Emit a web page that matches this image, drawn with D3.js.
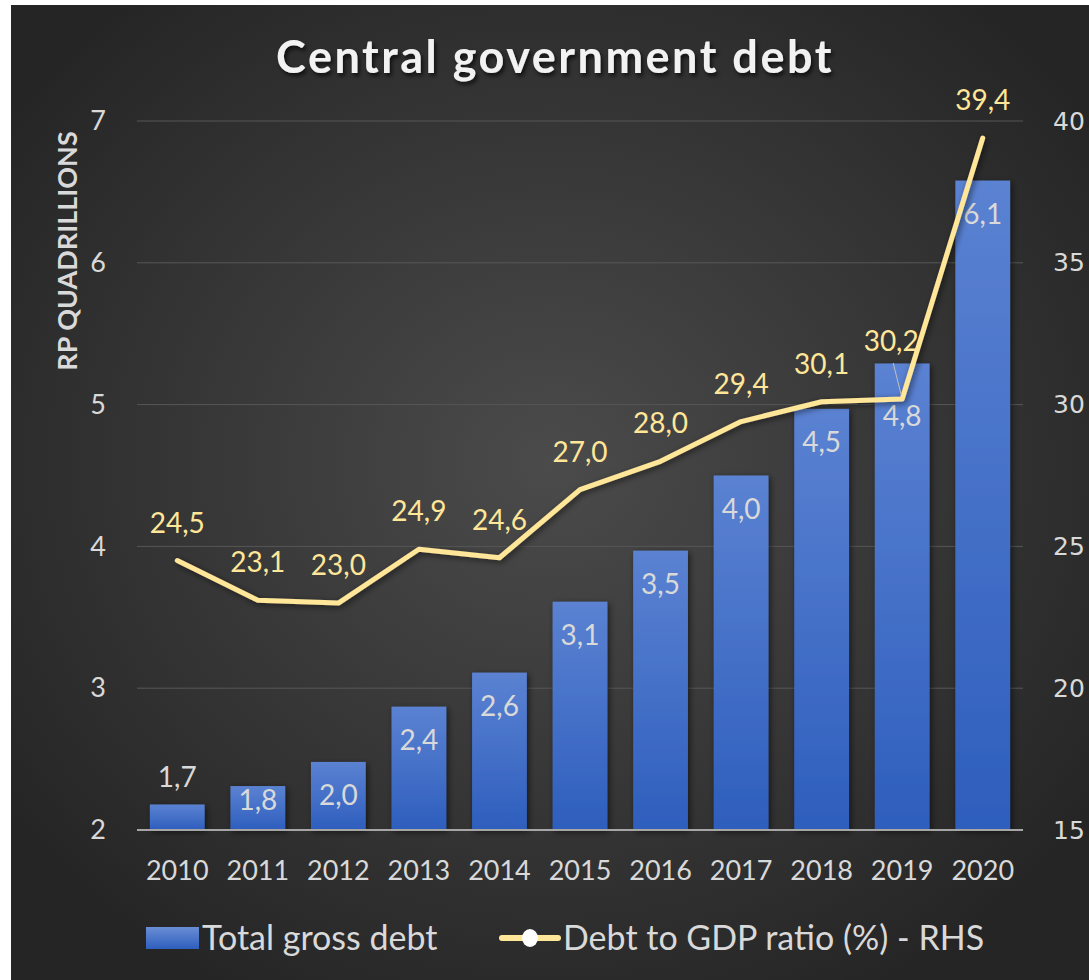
<!DOCTYPE html>
<html>
<head>
<meta charset="utf-8">
<script src="https://cdn.jsdelivr.net/npm/d3@7"></script>
<style>
	html, body { margin: 0; padding: 0; background: #fff; }
	svg { display: block; }
</style>
</head>
<body>
<div id="chart"></div>
<script>
var years = ["2010", "2011", "2012", "2013", "2014", "2015", "2016", "2017", "2018", "2019", "2020"];
// bar heights as drawn in the picture (left axis)
var debtBar = [2.18, 2.31, 2.48, 2.87, 3.11, 3.61, 3.97, 4.50, 4.97, 5.29, 6.58];
// values printed on the bars
var debtLabel = [1.7, 1.8, 2.0, 2.4, 2.6, 3.1, 3.5, 4.0, 4.5, 4.8, 6.1];
var ratio = [24.5, 23.1, 23.0, 24.9, 24.6, 27.0, 28.0, 29.4, 30.1, 30.2, 39.4];
var leftTicks = [2, 3, 4, 5, 6, 7],
	rightTicks = [15, 20, 25, 30, 35, 40];

var width = 1089,
	height = 980,
	margin = {top: 121, right: 66, bottom: 150, left: 137},
	font = "Lato, 'Open Sans', sans-serif",
	textCol = "#d9d9d9",
	lineCol = "#ffe699";

var svg = d3.select("#chart").append("svg")
	.attr("width", width)
	.attr("height", height);

var defs = svg.append("defs");

var bg = defs.append("radialGradient").attr("id", "bg")
	.attr("cx", "50%").attr("cy", "47%").attr("r", "62%");
bg.append("stop").attr("offset", "0%").attr("stop-color", "#4b4b4b");
bg.append("stop").attr("offset", "100%").attr("stop-color", "#252525");

var barGrad = defs.append("linearGradient").attr("id", "barGrad")
	.attr("x1", 0).attr("y1", 0).attr("x2", 0).attr("y2", 1);
barGrad.append("stop").attr("offset", "0%").attr("stop-color", "#5b82d2");
barGrad.append("stop").attr("offset", "100%").attr("stop-color", "#2e5ebd");

var legGrad = defs.append("linearGradient").attr("id", "legGrad")
	.attr("x1", 0).attr("y1", 0).attr("x2", 0).attr("y2", 1);
legGrad.append("stop").attr("offset", "0%").attr("stop-color", "#6a8ed6");
legGrad.append("stop").attr("offset", "100%").attr("stop-color", "#2e5ebd");

var shadow = defs.append("filter").attr("id", "shadow")
	.attr("x", "-20%").attr("y", "-20%").attr("width", "140%").attr("height", "140%");
shadow.append("feDropShadow").attr("dx", 2).attr("dy", 2).attr("stdDeviation", 3)
	.attr("flood-color", "#000").attr("flood-opacity", 0.55);

var tshadow = defs.append("filter").attr("id", "tshadow")
	.attr("x", "-10%").attr("y", "-30%").attr("width", "120%").attr("height", "160%");
tshadow.append("feDropShadow").attr("dx", 2).attr("dy", 3).attr("stdDeviation", 2)
	.attr("flood-color", "#000").attr("flood-opacity", 0.7);

svg.append("rect")
	.attr("x", 11).attr("y", 5)
	.attr("width", width - 11).attr("height", height - 5)
	.attr("fill", "url(#bg)");

var x = d3.scaleBand()
	.domain(years)
	.range([margin.left, width - margin.right])
	.paddingInner(0.32)
	.paddingOuter(0.16);

var y = d3.scaleLinear()
	.domain([2, 7])
	.range([height - margin.bottom, margin.top]);

var y2 = d3.scaleLinear()
	.domain([15, 40])
	.range([height - margin.bottom, margin.top]);

var fmt = function(v){ return d3.format(".1f")(v).replace(".", ","); };

// gridlines
svg.append("g")
	.selectAll("line")
	.data(leftTicks.slice(1)).enter()
	.append("line")
	.attr("x1", margin.left).attr("x2", width - margin.right)
	.attr("y1", function(d){ return y(d); })
	.attr("y2", function(d){ return y(d); })
	.attr("stroke", "#575757")
	.attr("stroke-width", 1);

// left axis
var yAxis = svg.append("g")
	.attr("transform", "translate(" + (margin.left - 31) + ",0)")
	.call(d3.axisLeft(y).tickValues(leftTicks).tickFormat(d3.format("d")).tickSize(0).tickPadding(0));
yAxis.select(".domain").remove();
yAxis.selectAll("text")
	.attr("fill", textCol)
	.style("font", "27px " + font);

// right axis
var yAxis2 = svg.append("g")
	.attr("transform", "translate(" + (width - margin.right + 30) + ",0)")
	.call(d3.axisRight(y2).tickValues(rightTicks).tickSize(0).tickPadding(0));
yAxis2.select(".domain").remove();
yAxis2.selectAll("text")
	.attr("fill", textCol)
	.style("font", "25px 'DejaVu Sans', sans-serif");

// axis title
svg.append("text")
	.attr("transform", "translate(77," + ((130 + 372) / 2) + ") rotate(-90)")
	.attr("text-anchor", "middle")
	.attr("fill", textCol)
	.style("font", "bold 27px " + font)
	.text("RP QUADRILLIONS");

// bars
svg.append("g")
	.selectAll("rect")
	.data(debtBar).enter()
	.append("rect")
	.attr("x", function(d, i){ return x(years[i]); })
	.attr("y", function(d){ return y(d); })
	.attr("width", x.bandwidth())
	.attr("height", function(d){ return y(2) - y(d); })
	.attr("fill", "url(#barGrad)")
	.attr("filter", "url(#shadow)");

// baseline
svg.append("line")
	.attr("x1", margin.left).attr("x2", width - margin.right)
	.attr("y1", y(2)).attr("y2", y(2))
	.attr("stroke", "#a6a6a6")
	.attr("stroke-width", 2);

// x axis labels
var xAxis = svg.append("g")
	.attr("transform", "translate(0," + (y(2) + 25) + ")")
	.call(d3.axisBottom(x).tickSize(0).tickPadding(6));
xAxis.select(".domain").remove();
xAxis.selectAll("text")
	.attr("fill", textCol)
	.style("font", "27px " + font);

// bar labels
svg.append("g")
	.selectAll("text")
	.data(debtLabel).enter()
	.append("text")
	.attr("x", function(d, i){ return x(years[i]) + x.bandwidth() / 2; })
	.attr("y", function(d, i){
		var top = y(debtBar[i]);
		if (i == 0) return top - 17;
		if (i == 1) return top + 24;
		if (i == 9) return top + 63;
		return top + 43;
	})
	.attr("text-anchor", "middle")
	.attr("fill", textCol)
	.style("font", "28px " + font)
	.text(function(d){ return fmt(d); });

// ratio line
var line = d3.line()
	.x(function(d, i){ return x(years[i]) + x.bandwidth() / 2; })
	.y(function(d){ return y2(d); });

svg.append("path")
	.datum(ratio)
	.attr("d", line)
	.attr("fill", "none")
	.attr("stroke", lineCol)
	.attr("stroke-width", 5)
	.attr("stroke-linejoin", "round")
	.attr("stroke-linecap", "round")
	.attr("filter", "url(#shadow)");

// leader line for 2019 label
var i19 = 9,
	cx19 = x(years[i19]) + x.bandwidth() / 2;
svg.append("line")
	.attr("x1", cx19 - 9).attr("y1", y2(ratio[i19]) - 36)
	.attr("x2", cx19 - 1).attr("y2", y2(ratio[i19]) - 4)
	.attr("stroke", "#bfbfbf")
	.attr("stroke-width", 1);

svg.append("g")
	.selectAll("text")
	.data(ratio).enter()
	.append("text")
	.attr("x", function(d, i){ return x(years[i]) + x.bandwidth() / 2 - (i == i19 ? 11 : 0); })
	.attr("y", function(d, i){ return y2(d) - (i == i19 ? 48 : 28); })
	.attr("text-anchor", "middle")
	.attr("fill", lineCol)
	.style("font", "28px " + font)
	.text(function(d){ return fmt(d); });

// title
svg.append("text")
	.attr("x", 555)
	.attr("y", 73)
	.attr("text-anchor", "middle")
	.attr("fill", "#f2f2f2")
	.attr("filter", "url(#tshadow)")
	.style("font", "bold 45px " + font)
	.style("letter-spacing", "2.5px")
	.text("Central government debt");

// legend
var leg = svg.append("g").attr("transform", "translate(0,938)");
leg.append("rect")
	.attr("x", 146).attr("y", -11)
	.attr("width", 53).attr("height", 22)
	.attr("fill", "url(#legGrad)");
leg.append("text")
	.attr("x", 202).attr("y", 12)
	.attr("fill", textCol)
	.style("font", "34px " + font)
	.text("Total gross debt");
leg.append("line")
	.attr("x1", 502).attr("x2", 558)
	.attr("stroke", lineCol)
	.attr("stroke-width", 6)
	.attr("stroke-linecap", "round");
leg.append("ellipse")
	.attr("cx", 530).attr("cy", 0)
	.attr("rx", 8).attr("ry", 9)
	.attr("fill", "#fff");
leg.append("text")
	.attr("x", 563).attr("y", 12)
	.attr("fill", textCol)
	.style("font", "34px " + font)
	.text("Debt to GDP ratio (%) - RHS");
</script>
</body>
</html>
